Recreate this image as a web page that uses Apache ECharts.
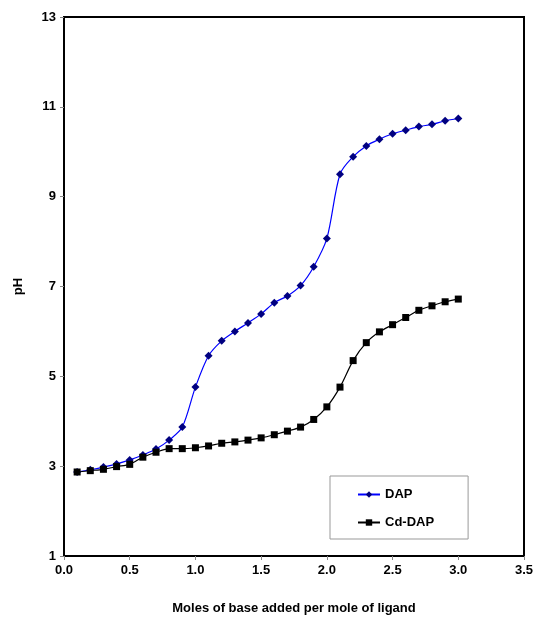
<!DOCTYPE html>
<html lang="en">
<head>
    <meta charset="UTF-8">
    <script src="https://cdn.jsdelivr.net/npm/echarts/dist/echarts.min.js"></script>
    <style>
        body, html { margin: 0; padding: 0; background: #fff; }
        #chart { width: 539px; height: 618px; }
    </style>
</head>
<body>
    <div id="chart"></div>
    <script>
        // moles of base added per mole of ligand
        const moles = [0.1, 0.2, 0.3, 0.4, 0.5, 0.6, 0.7, 0.8, 0.9, 1.0,
                       1.1, 1.2, 1.3, 1.4, 1.5, 1.6, 1.7, 1.8, 1.9, 2.0,
                       2.1, 2.2, 2.3, 2.4, 2.5, 2.6, 2.7, 2.8, 2.9, 3.0];
        const dapPH = [2.87, 2.92, 2.98, 3.05, 3.14, 3.25, 3.38, 3.58, 3.87, 4.76,
                       5.46, 5.79, 6.00, 6.19, 6.39, 6.64, 6.79, 7.02, 7.44, 8.07,
                       9.50, 9.89, 10.13, 10.28, 10.40, 10.48, 10.56, 10.61, 10.69, 10.74];
        const cdDapPH = [2.87, 2.90, 2.93, 2.99, 3.04, 3.20, 3.31, 3.39, 3.39, 3.41,
                         3.45, 3.51, 3.54, 3.58, 3.63, 3.70, 3.78, 3.87, 4.04, 4.32,
                         4.76, 5.35, 5.75, 5.99, 6.15, 6.31, 6.47, 6.57, 6.66, 6.72];

        const font = 'Liberation Sans, Arial, sans-serif';
        const chart = echarts.init(document.getElementById('chart'));
        chart.setOption({
            animation: false,
            grid: {
                left: 64, right: 15, top: 17, bottom: 62,
                outerBoundsMode: 'none',
                show: true, borderColor: '#000', borderWidth: 2
            },
            legend: {
                orient: 'vertical',
                left: 330, top: 476,
                padding: [12, 34, 10, 27],
                itemGap: 15,
                itemWidth: 22, itemHeight: 8,
                borderColor: '#999', borderWidth: 1,
                textStyle: { fontFamily: font, fontWeight: 'bold', fontSize: 13, color: '#000' },
                data: ['DAP', 'Cd-DAP']
            },
            xAxis: {
                type: 'value', min: 0, max: 3.5, interval: 0.5,
                name: 'Moles of base added per mole of ligand',
                nameLocation: 'middle', nameGap: 46,
                nameTextStyle: { fontFamily: font, fontWeight: 'bold', fontSize: 13, color: '#000' },
                axisLine: { lineStyle: { color: '#000', width: 2 } },
                axisTick: { show: true, length: 4, lineStyle: { color: '#888' } },
                axisLabel: {
                    fontFamily: font, fontWeight: 'bold', fontSize: 13, color: '#000', margin: 8,
                    formatter: v => v.toFixed(1)
                },
                splitLine: { show: false }
            },
            yAxis: {
                type: 'value', min: 1, max: 13, interval: 2,
                name: 'pH',
                nameLocation: 'middle', nameGap: 39,
                nameTextStyle: { fontFamily: font, fontWeight: 'bold', fontSize: 13, color: '#000' },
                axisLine: { lineStyle: { color: '#000', width: 2 } },
                axisTick: { show: true, length: 4, lineStyle: { color: '#888' } },
                axisLabel: { fontFamily: font, fontWeight: 'bold', fontSize: 13, color: '#000', margin: 8 },
                splitLine: { show: false }
            },
            series: [
                {
                    name: 'DAP', type: 'line', smooth: 0.3,
                    data: moles.map((m, i) => [m, dapPH[i]]),
                    symbol: 'diamond', symbolSize: 8,
                    lineStyle: { color: '#0000ff', width: 1.2 },
                    itemStyle: { color: '#000080' }
                },
                {
                    name: 'Cd-DAP', type: 'line', smooth: 0.3,
                    data: moles.map((m, i) => [m, cdDapPH[i]]),
                    symbol: 'rect', symbolSize: 7,
                    lineStyle: { color: '#000', width: 1.2 },
                    itemStyle: { color: '#000' }
                }
            ]
        });
    </script>
</body>
</html>
